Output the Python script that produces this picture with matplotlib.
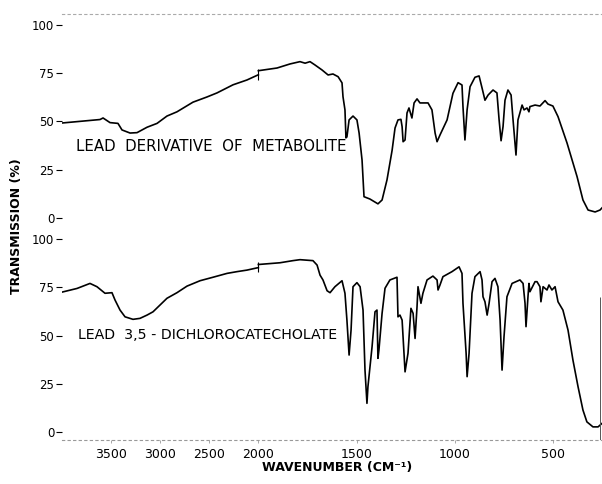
import numpy as np
import matplotlib
matplotlib.use("Agg")
import matplotlib.pyplot as plt

# metabolite lead derivative (top), 4000-2000 and 2000-250 chart sections
top_hi_wn = [4000, 3613, 3582, 3511, 3430, 3389, 3307, 3236, 3134, 3032, 2931,
             2829, 2666, 2523, 2421, 2258, 2116, 2000]
top_hi_t = [49.2, 51.0, 51.8, 49.4, 49.0, 45.6, 44.0, 44.2, 47.0, 49.0, 52.8,
            55.0, 60.0, 62.7, 64.8, 69.0, 71.5, 74.2]
top_lo_wn = [2000, 1905, 1839, 1788, 1762, 1737, 1712, 1676, 1645, 1620, 1594,
             1574, 1569, 1559, 1554, 1549, 1538, 1518, 1498, 1487, 1472, 1462,
             1432, 1391, 1370, 1345, 1319, 1304, 1289, 1274, 1268, 1263, 1253,
             1243, 1233, 1218, 1207, 1192, 1177, 1136, 1116, 1100, 1090, 1075,
             1039, 1009, 983, 963, 958, 948, 937, 922, 897, 876, 861, 846, 830,
             805, 785, 774, 764, 754, 744, 729, 713, 703, 688, 678, 657, 647,
             632, 622, 617, 591, 566, 540, 525, 500, 474, 428, 377, 347, 321,
             285, 260, 250]
top_lo_t = [76.3, 77.7, 79.8, 81.0, 80.2, 81.0, 79.3, 76.7, 74.1, 74.6, 73.2,
            70.0, 62.8, 56.0, 41.5, 42.0, 50.8, 52.8, 50.8, 44.0, 30.0, 11.0,
            9.8, 7.3, 9.3, 19.7, 35.0, 46.6, 50.8, 51.1, 47.3, 39.5, 40.4,
            54.4, 57.0, 51.8, 59.6, 61.7, 59.6, 59.6, 56.0, 44.0, 39.5, 43.0,
            50.8, 64.6, 70.1, 68.9, 57.7, 40.4, 56.0, 68.0, 72.9, 73.6, 67.4,
            61.0, 63.7, 66.3, 64.8, 50.8, 40.0, 47.3, 61.0, 66.3, 63.7, 50.8,
            32.6, 50.8, 58.5, 56.0, 57.0, 55.0, 57.7, 58.5, 58.0, 60.8, 59.0,
            58.0, 52.5, 38.8, 21.4, 9.3, 4.1, 3.1, 4.1, 5.2]

# lead 3,5-dichlorocatecholate (bottom)
bot_hi_wn = [4000, 3847, 3715, 3644, 3562, 3491, 3460, 3409, 3358, 3277, 3206,
             3134, 3073, 3002, 2931, 2829, 2727, 2594, 2462, 2319, 2218, 2116,
             2000]
bot_hi_t = [72.5, 74.4, 77.0, 75.3, 71.9, 72.2, 68.4, 63.2, 59.7, 58.4, 58.9,
            60.6, 62.3, 65.8, 69.3, 72.2, 75.6, 78.4, 80.2, 82.2, 83.1, 83.9,
            85.2]
bot_lo_wn = [2000, 1890, 1824, 1788, 1722, 1701, 1686, 1671, 1650, 1635, 1610,
             1574, 1559, 1549, 1538, 1528, 1518, 1498, 1482, 1467, 1457, 1447,
             1442, 1421, 1406, 1396, 1391, 1386, 1370, 1355, 1330, 1294, 1289,
             1279, 1268, 1253, 1238, 1223, 1212, 1202, 1192, 1187, 1172, 1162,
             1141, 1111, 1090, 1085, 1075, 1060, 1014, 978, 963, 958, 942, 937,
             927, 912, 897, 871, 861, 856, 846, 835, 825, 810, 795, 780, 769,
             759, 749, 734, 708, 668, 652, 642, 637, 627, 622, 617, 591, 581,
             566, 561, 550, 530, 520, 505, 489, 474, 449, 423, 398, 372, 347,
             327, 296, 270, 250]
bot_lo_t = [86.8, 87.7, 88.8, 89.3, 88.8, 86.5, 81.3, 78.8, 73.2, 72.2, 75.3,
            78.4, 71.9, 58.0, 39.9, 52.8, 75.3, 77.4, 75.3, 63.2, 32.1, 14.9,
            23.5, 44.2, 62.3, 63.2, 38.2, 42.5, 61.5, 74.5, 78.8, 80.2, 59.7,
            60.6, 58.0, 31.2, 40.8, 64.1, 61.5, 48.5, 64.9, 75.3, 66.7, 71.9,
            78.8, 80.8, 78.8, 73.6, 76.2, 80.5, 83.1, 85.6, 82.2, 66.7, 40.8,
            28.7, 40.8, 71.9, 80.5, 83.1, 78.8, 70.1, 67.5, 60.6, 66.7, 77.9,
            79.6, 75.3, 58.0, 32.1, 49.4, 70.1, 77.0, 78.8, 77.0, 66.7, 54.6,
            70.1, 77.0, 72.7, 77.9, 77.9, 75.3, 67.5, 75.3, 73.6, 76.2, 73.6,
            75.3, 67.5, 63.2, 52.8, 37.3, 23.5, 11.4, 5.3, 2.7, 2.7, 4.5]

# chart-paper marks at the 2000 cm-1 scale change, and the pen line at the end
top_break = (71.5, 77.0)
bot_break = (82.8, 88.0)
pen_line_wn = 258
pen_line_t = (-4.1, 70.0)

top_label = "LEAD  DERIVATIVE  OF  METABOLITE"
bot_label = "LEAD  3,5 - DICHLOROCATECHOLATE"
xticks = [3500, 3000, 2500, 2000, 1500, 1000, 500]
yticks = [0, 25, 50, 75, 100]


def fwd(x):
    x = np.asarray(x, dtype=float)
    return np.where(x <= 2000, x, 2000 + (x - 2000) / 2.0)


def inv(u):
    u = np.asarray(u, dtype=float)
    return np.where(u <= 2000, u, 2000 + 2.0 * (u - 2000))


fig = plt.figure(figsize=(6.02, 4.84), dpi=100)
ax1 = fig.add_axes([0.103, 0.5298, 0.897, 0.4413])
ax2 = fig.add_axes([0.103, 0.0909, 0.897, 0.438])

for ax in (ax1, ax2):
    ax.set_xscale("function", functions=(fwd, inv))
    ax.set_xlim(4000, 250)
    ax.set_yticks(yticks)
    ax.set_yticklabels([str(v) for v in yticks])
    ax.tick_params(axis="y", direction="out", length=4, width=0.8, pad=1.5,
                   labelsize=8.5)
    for s in ("left", "right"):
        ax.spines[s].set_visible(False)
    ax.patch.set_visible(False)

ax1.set_ylim(-5, 105.7)
ax2.set_ylim(-4.1, 105.7)

ax1.spines["bottom"].set_visible(False)
ax1.spines["top"].set_linestyle((0, (2, 3)))
ax1.spines["top"].set_color("#aaaaaa")
ax1.spines["top"].set_linewidth(0.8)
ax1.tick_params(axis="x", bottom=False, labelbottom=False)
ax1.set_xticks(xticks)

ax2.spines["top"].set_visible(False)
ax2.spines["bottom"].set_linestyle((0, (2, 3)))
ax2.spines["bottom"].set_color("#999999")
ax2.spines["bottom"].set_linewidth(0.8)
ax2.set_xticks(xticks)
ax2.set_xticklabels([str(v) for v in xticks])
ax2.tick_params(axis="x", direction="out", length=2, width=0.6,
                color="#999999", pad=4, labelsize=9)

lw = 1.2
ax1.plot(top_hi_wn, top_hi_t, color="black", lw=lw)
ax1.plot(top_lo_wn, top_lo_t, color="black", lw=lw)
ax1.vlines(2000, *top_break, color="black", lw=0.8)
ax2.plot(bot_hi_wn, bot_hi_t, color="black", lw=lw)
ax2.plot(bot_lo_wn, bot_lo_t, color="black", lw=lw)
ax2.vlines(2000, *bot_break, color="black", lw=0.8)
ax2.vlines(pen_line_wn, *pen_line_t, color="#555555", lw=0.7)

ax1.text(3857, 36.8, top_label, fontsize=10.8, ha="left", va="center")
ax2.text(3837, 50.3, bot_label, fontsize=10.2, ha="left", va="center")

fig.text(0.028, 1 - 226 / 484, "TRANSMISSION (%)", rotation=90, fontsize=9,
         fontweight="bold", ha="center", va="center")
fig.text(337 / 602, 1 - 467 / 484, "WAVENUMBER (CM\u207b\u00b9)", fontsize=9,
         fontweight="bold", ha="center", va="center")

fig.savefig("out.png", dpi=100)
